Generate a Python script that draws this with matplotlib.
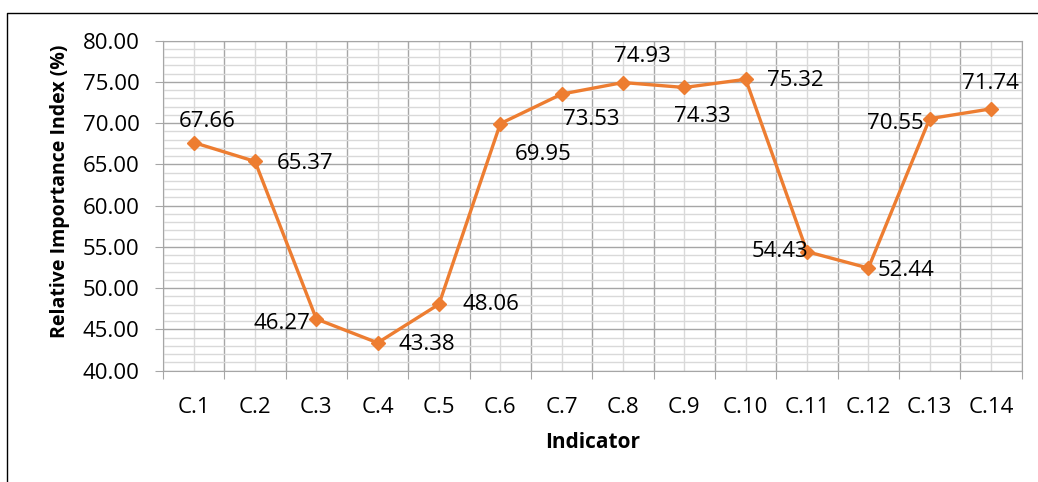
import matplotlib.pyplot as plt
from matplotlib.lines import Line2D
from matplotlib.ticker import MultipleLocator, FormatStrFormatter, FixedLocator

# data
indicators = ["C.1", "C.2", "C.3", "C.4", "C.5", "C.6", "C.7",
              "C.8", "C.9", "C.10", "C.11", "C.12", "C.13", "C.14"]
rii_values = [67.66, 65.37, 46.27, 43.38, 48.06, 69.95, 73.53,
              74.93, 74.33, 75.32, 54.43, 52.44, 70.55, 71.74]

# label placement (pixel offsets from each point, screen y down)
label_dx = [14, 50, -34, 49, 52, 43, 30, 19, 18, 50, -27, 38, -34, -1]
label_dy = [-21, 2, 5, 2, 0, 31, 25, -26, 29, 1, 0, 2, 5, -25]

ORANGE = "#ED7D31"
MAJOR_GRID = "#a6a6a6"
MINOR_GRID = "#d9d9d9"

plt.rcParams['font.family'] = ['Open Sans', 'DejaVu Sans']

fig = plt.figure(figsize=(10.38, 4.82), dpi=100)
ax = fig.add_axes([163 / 1038, 1 - 370.7 / 482, (1021.7 - 163) / 1038, (370.7 - 40.7) / 482])

x = list(range(len(indicators)))
ax.plot(x, rii_values, color=ORANGE, lw=2.4, marker='D', ms=7.5,
        markeredgecolor=ORANGE, zorder=3)

for xi, v, dx, dy in zip(x, rii_values, label_dx, label_dy):
    ax.annotate(f"{v:.2f}", (xi, v), xytext=(dx, -dy), textcoords='offset pixels',
                ha='center', va='center', fontsize=16, color='black', zorder=4)

# axes limits / ticks
ax.set_xlim(-0.5, len(indicators) - 0.5)
ax.set_ylim(40, 80)
ax.yaxis.set_major_locator(MultipleLocator(5))
ax.yaxis.set_minor_locator(MultipleLocator(1))
ax.yaxis.set_major_formatter(FormatStrFormatter('%.2f'))

ax.xaxis.set_major_locator(FixedLocator([i - 0.5 for i in range(len(indicators) + 1)]))
ax.xaxis.set_minor_locator(FixedLocator(x))
ax.xaxis.set_major_formatter(plt.NullFormatter())
ax.set_xticks(x, indicators, minor=True)

ax.tick_params(axis='y', which='major', length=6, color=MAJOR_GRID, labelsize=16, pad=11)
ax.tick_params(axis='y', which='minor', length=0)
ax.tick_params(axis='x', which='major', length=6, color=MAJOR_GRID)
ax.tick_params(axis='x', which='minor', length=0, labelsize=16, pad=19)

ax.grid(which='major', color=MAJOR_GRID, lw=1.0)
ax.grid(which='minor', color=MINOR_GRID, lw=1.0)
ax.set_axisbelow(True)
for s in ax.spines.values():
    s.set_color(MAJOR_GRID)

ax.set_ylabel("Relative Importance Index (%)", fontsize=14, fontweight='bold', labelpad=9)
ax.yaxis.label.set_y(0.545)
ax.set_xlabel("Indicator", fontsize=15, fontweight='bold', labelpad=10)

# outer chart border (left and top edges visible)
fig.add_artist(Line2D([7 / 1038, 7 / 1038, 1.0], [0.0, 1 - 12.5 / 482, 1 - 12.5 / 482],
                      transform=fig.transFigure, color='black', lw=1.0))

plt.savefig("out.png", dpi=100)
